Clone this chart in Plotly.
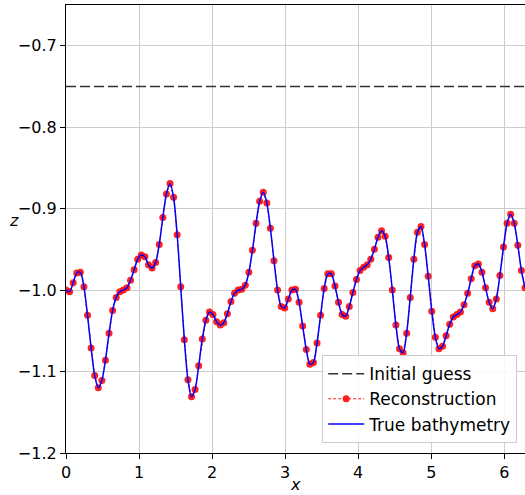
import numpy as np
import plotly.graph_objects as go

# Data
z_values = [
    -1.000, -1.002, -0.991, -0.979, -0.978, -0.996, -1.031, -1.071, -1.105, -1.120,
    -1.111, -1.086, -1.053, -1.025, -1.009, -1.002, -1.000, -0.997, -0.988, -0.975,
    -0.962, -0.957,
    -0.959, -0.969, -0.973, -0.966, -0.944, -0.911, -0.882, -0.869, -0.886, -0.932,
    -0.996, -1.061, -1.110, -1.131, -1.122, -1.093, -1.060, -1.037, -1.027, -1.030,
    -1.039,
    -1.043, -1.040, -1.029, -1.014, -1.004, -1.000, -0.999, -0.994, -0.978, -0.951,
    -0.918, -0.891, -0.880, -0.893, -0.924, -0.964, -1.000, -1.020, -1.022, -1.011,
    -1.000, -0.999,
    -1.015, -1.044, -1.073, -1.091, -1.089, -1.065, -1.031, -0.998, -0.980, -0.980,
    -0.995, -1.015, -1.030, -1.032, -1.020, -1.003, -0.987, -0.976, -0.972, -0.969,
    -0.962, -0.950, -0.935,
    -0.927, -0.934, -0.960, -1.000, -1.043, -1.072, -1.077, -1.053, -1.009, -0.962,
    -0.929, -0.922, -0.944, -0.983, -1.026, -1.058, -1.072, -1.069, -1.056, -1.042,
    -1.033,
    -1.030, -1.027, -1.018, -1.004, -0.986, -0.970, -0.968, -0.978, -0.997, -1.015,
    -1.023, -1.011, -0.982, -0.947, -0.918, -0.907, -0.918, -0.945, -0.976, -0.997,
]
reconstruction = list(z_values)
true_bathymetry = list(z_values)
x_values = np.linspace(0, 2 * np.pi, len(z_values))

guess_x = [0, 2 * np.pi]
guess_z = [-0.75, -0.75]

x_ticks = [0, 1, 2, 3, 4, 5, 6]
y_ticks = [-1.2, -1.1, -1.0, -0.9, -0.8, -0.7]

FONT = "DejaVu Sans"

fig = go.Figure()
fig.add_trace(go.Scatter(
    x=guess_x, y=guess_z, mode="lines", name="Initial guess",
    line=dict(color="#333333", width=1.5, dash="10px,4px"),
))
fig.add_trace(go.Scatter(
    x=x_values, y=reconstruction, mode="lines+markers", name="Reconstruction",
    line=dict(color="rgba(255,0,0,0.9)", width=1, dash="3px,2px"),
    marker=dict(color="rgba(255,10,10,0.9)", size=7, line=dict(width=0)),
))
fig.add_trace(go.Scatter(
    x=x_values, y=true_bathymetry, mode="lines", name="True bathymetry",
    line=dict(color="#0000ff", width=1.5, shape="spline", smoothing=0.8),
))

axis_common = dict(
    showgrid=True, gridcolor="#cccccc", gridwidth=1.2,
    showline=True, linecolor="black", linewidth=1.2,
    ticks="outside", ticklen=5, tickwidth=1, tickcolor="black",
    tickfont=dict(family=FONT, size=16, color="black"),
    zeroline=False,
)

fig.update_layout(
    width=525, height=495,
    margin=dict(l=66, r=0, t=5, b=42),
    paper_bgcolor="white", plot_bgcolor="white",
    font=dict(family=FONT, size=16, color="black"),
    xaxis=dict(range=[0, 2 * np.pi], tickvals=x_ticks, mirror=True, **axis_common),
    yaxis=dict(range=[-1.2, -0.65], tickvals=y_ticks, tickformat=".1f", **axis_common),
    legend=dict(
        x=0.983, y=0.022, xanchor="right", yanchor="bottom",
        bgcolor="rgba(255,255,255,0.85)", bordercolor="#cccccc", borderwidth=1,
        font=dict(family=FONT, size=17, color="black"),
        itemwidth=36,
        tracegroupgap=0,
    ),
    showlegend=True,
    annotations=[
        dict(text="<i>x</i>", xref="paper", yref="paper", x=0.5, y=0, yshift=-31,
             xanchor="center", yanchor="middle", showarrow=False,
             font=dict(family=FONT, size=16, color="black")),
        dict(text="<i>z</i>", xref="paper", yref="paper", x=0, xshift=-52, y=0.52,
             xanchor="center", yanchor="middle", showarrow=False,
             font=dict(family=FONT, size=16, color="black")),
    ],
)

fig.write_html(
    "out.html",
    config={"displayModeBar": False},
    post_script="document.body.style.margin='0';document.body.style.padding='0';",
)
